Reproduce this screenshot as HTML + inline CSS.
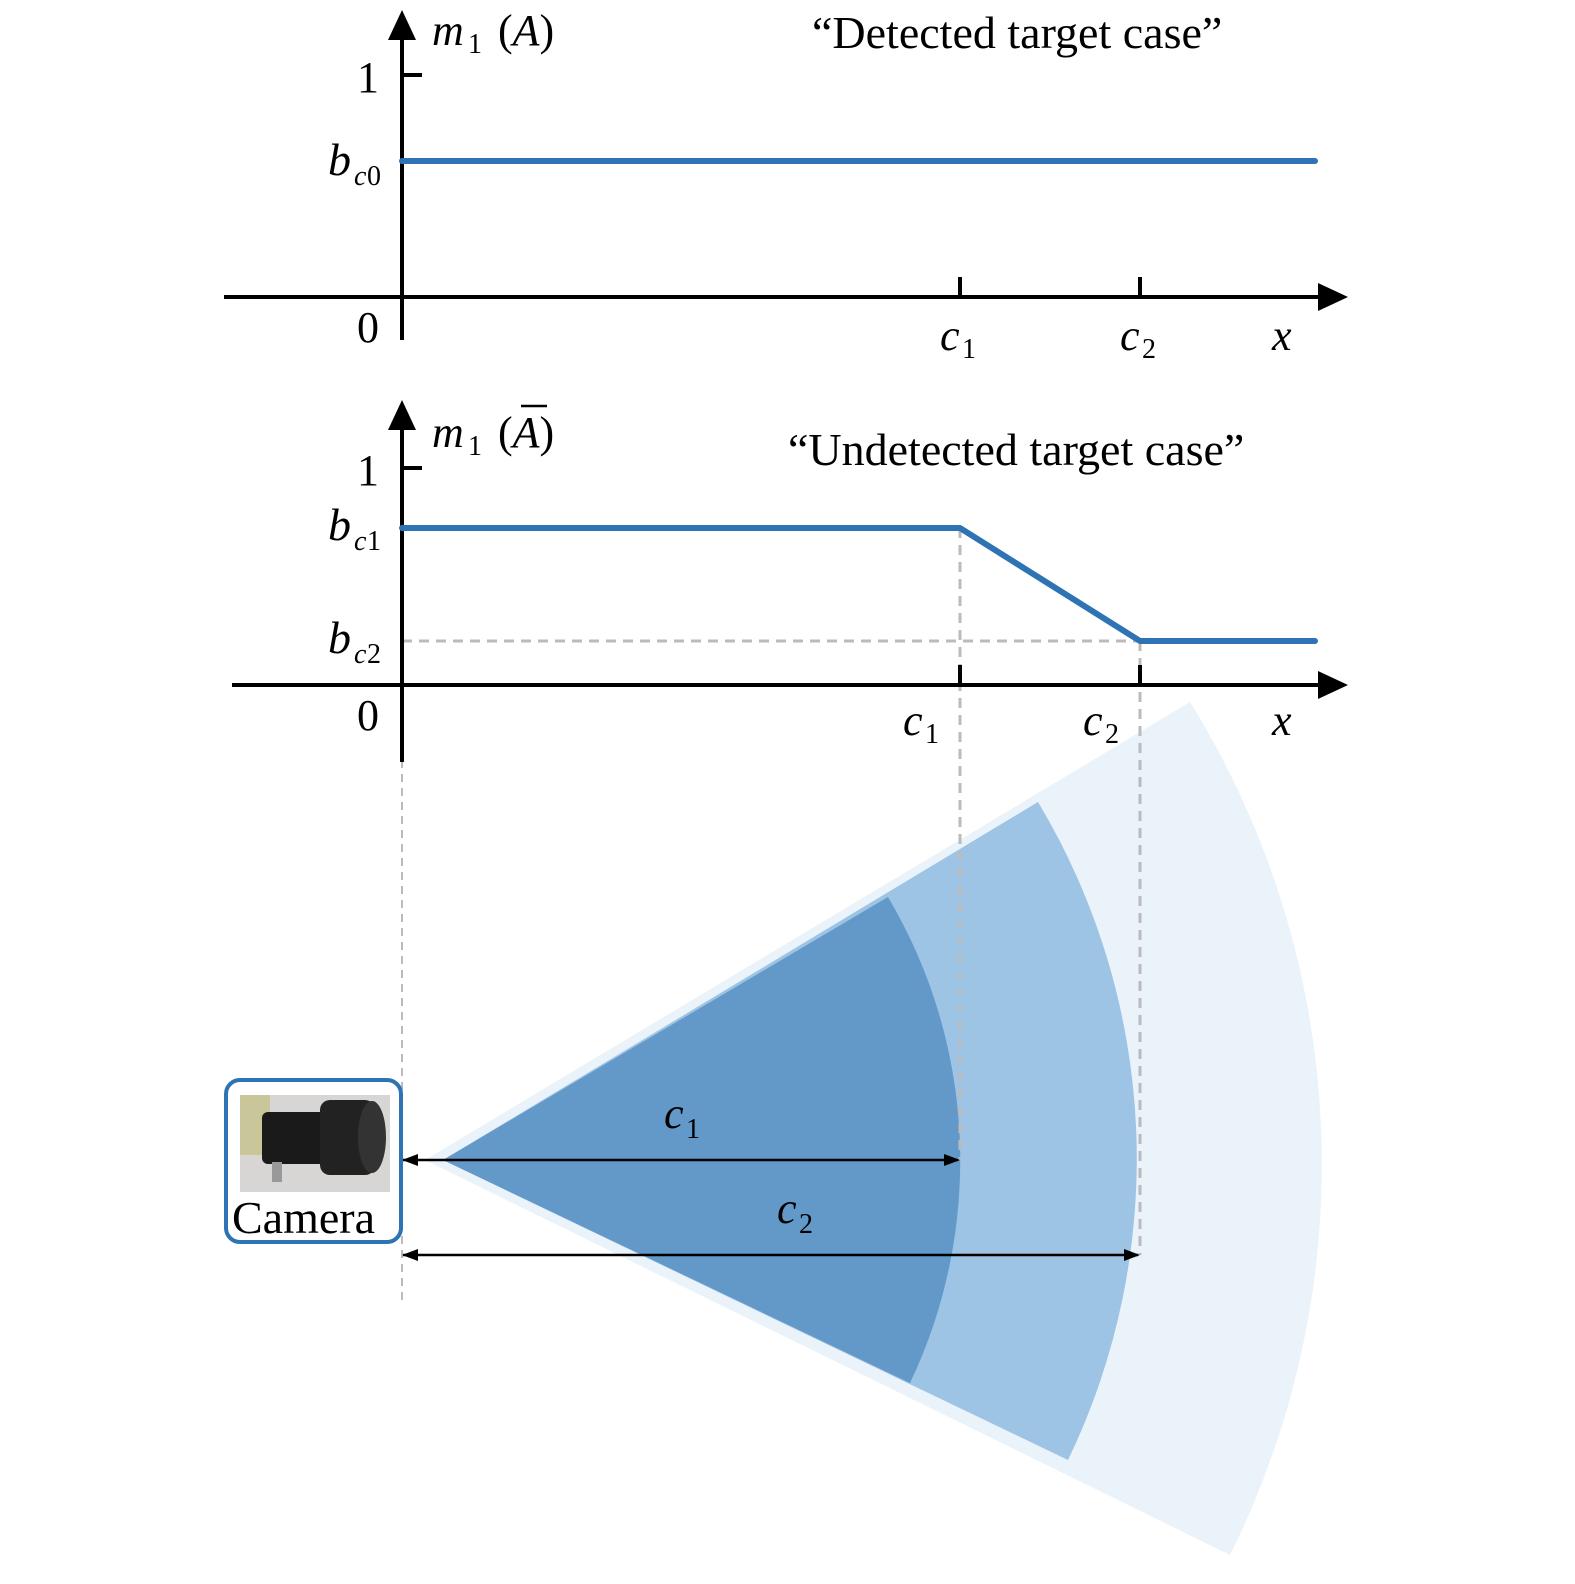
<!DOCTYPE html>
<html><head><meta charset="utf-8"><style>
html,body{margin:0;padding:0;background:#fff;overflow:hidden;width:1575px;height:1584px}
svg{display:block}
text{font-family:"Liberation Serif","Times New Roman",serif;fill:#000}
</style></head><body>
<svg width="1575" height="1584" viewBox="0 0 1575 1584" xmlns="http://www.w3.org/2000/svg">
<defs>
<marker id="ah2" markerWidth="16" markerHeight="12" refX="15" refY="6" orient="auto" markerUnits="userSpaceOnUse">
<path d="M0,0 L16,6 L0,12 Z" fill="#000"/></marker>
</defs>
<path d="M425,1160 L1190,702 A877,877 0 0 1 1230,1555 Z" fill="#eaf2fa"/>
<path d="M443,1160 L1038,802 A694,694 0 0 1 1068,1460 Z" fill="#9dc3e5"/>
<path d="M443,1160 L888,897 A517,517 0 0 1 910,1383 Z" fill="#6399c9"/>

<line x1="224" y1="297" x2="1320" y2="297" stroke="#000" stroke-width="4"/>
<path d="M1318,283 L1348,297 L1318,311 Z" fill="#000"/>
<line x1="402" y1="340" x2="402" y2="35" stroke="#000" stroke-width="4"/>
<path d="M388,40 L402,10 L416,40 Z" fill="#000"/>
<line x1="402" y1="75" x2="422" y2="75" stroke="#000" stroke-width="4"/>
<line x1="960" y1="277" x2="960" y2="297" stroke="#000" stroke-width="4"/>
<line x1="1140" y1="277" x2="1140" y2="297" stroke="#000" stroke-width="4"/>
<line x1="402" y1="161" x2="1315" y2="161" stroke="#2e74b5" stroke-width="6" stroke-linecap="round"/>
<text x="357" y="92" font-size="44">1</text>
<text x="357" y="342" font-size="44">0</text>
<text x="328" y="175" font-size="46" font-style="italic">b</text><text x="354" y="185" font-size="28" font-style="italic">c</text><text x="367" y="185" font-size="28">0</text>
<text x="432" y="45" font-size="44" font-style="italic">m</text><text x="468" y="53" font-size="28">1</text><text x="498" y="45" font-size="44">(<tspan font-style="italic">A</tspan>)</text>
<text x="812" y="48" font-size="46">“Detected target case”</text>
<text x="940" y="350" font-size="44" font-style="italic">c</text><text x="962" y="358" font-size="28">1</text>
<text x="1120" y="350" font-size="44" font-style="italic">c</text><text x="1142" y="358" font-size="28">2</text>
<text x="1272" y="350" font-size="44" font-style="italic">x</text>

<g stroke="#bbb" stroke-width="3" stroke-dasharray="10,7" fill="none">
<line x1="402" y1="641" x2="1140" y2="641"/>
<line x1="960" y1="528" x2="960" y2="1160"/>
<line x1="1140" y1="641" x2="1140" y2="1255"/>
</g>
<line x1="402" y1="760" x2="402" y2="1300" stroke="#bbb" stroke-width="2" stroke-dasharray="8,6"/>
<line x1="232" y1="685" x2="1320" y2="685" stroke="#000" stroke-width="4"/>
<path d="M1318,671 L1348,685 L1318,699 Z" fill="#000"/>
<line x1="402" y1="762" x2="402" y2="428" stroke="#000" stroke-width="4"/>
<path d="M388,430 L402,400 L416,430 Z" fill="#000"/>
<line x1="402" y1="468" x2="422" y2="468" stroke="#000" stroke-width="4"/>
<line x1="960" y1="665" x2="960" y2="685" stroke="#000" stroke-width="4"/>
<line x1="1140" y1="665" x2="1140" y2="685" stroke="#000" stroke-width="4"/>
<polyline points="402,528 960,528 1140,641 1315,641" fill="none" stroke="#2e74b5" stroke-width="6" stroke-linecap="round" stroke-linejoin="round"/>
<text x="357" y="485" font-size="44">1</text>
<text x="357" y="730" font-size="44">0</text>
<text x="328" y="540" font-size="46" font-style="italic">b</text><text x="354" y="550" font-size="28" font-style="italic">c</text><text x="367" y="550" font-size="28">1</text>
<text x="328" y="653" font-size="46" font-style="italic">b</text><text x="354" y="663" font-size="28" font-style="italic">c</text><text x="367" y="663" font-size="28">2</text>
<text x="432" y="447" font-size="44" font-style="italic">m</text><text x="468" y="455" font-size="28">1</text><text x="498" y="447" font-size="44">(<tspan font-style="italic">A</tspan>)</text>
<line x1="521" y1="406" x2="547" y2="406" stroke="#000" stroke-width="2.5"/>
<text x="788" y="465" font-size="46">“Undetected target case”</text>
<text x="903" y="735" font-size="44" font-style="italic">c</text><text x="925" y="743" font-size="28">1</text>
<text x="1083" y="735" font-size="44" font-style="italic">c</text><text x="1105" y="743" font-size="28">2</text>
<text x="1272" y="735" font-size="44" font-style="italic">x</text>

<line x1="958" y1="1160" x2="403" y2="1160" stroke="#000" stroke-width="2.5" marker-end="url(#ah2)"/>
<path d="M960,1160 L944,1154 L944,1166 Z" fill="#000"/>
<line x1="1138" y1="1255" x2="403" y2="1255" stroke="#000" stroke-width="2.5" marker-end="url(#ah2)"/>
<path d="M1140,1255 L1124,1249 L1124,1261 Z" fill="#000"/>
<text x="664" y="1128" font-size="44" font-style="italic">c</text><text x="686" y="1138" font-size="28">1</text>
<text x="777" y="1223" font-size="44" font-style="italic">c</text><text x="799" y="1233" font-size="28">2</text>

<rect x="226" y="1080" width="175" height="162" rx="14" fill="#fff" stroke="#2e74b5" stroke-width="4"/>
<rect x="240" y="1095" width="150" height="97" fill="#d8d6d4"/>
<rect x="240" y="1095" width="30" height="60" fill="#c9c79a"/>
<rect x="262" y="1112" width="70" height="52" rx="6" fill="#1a1a1a"/>
<rect x="320" y="1100" width="55" height="75" rx="10" fill="#222"/>
<ellipse cx="372" cy="1137" rx="14" ry="36" fill="#333"/>
<rect x="272" y="1162" width="10" height="20" fill="#999"/>
<text x="232" y="1233" font-size="46">Camera</text>
</svg>
</body></html>
